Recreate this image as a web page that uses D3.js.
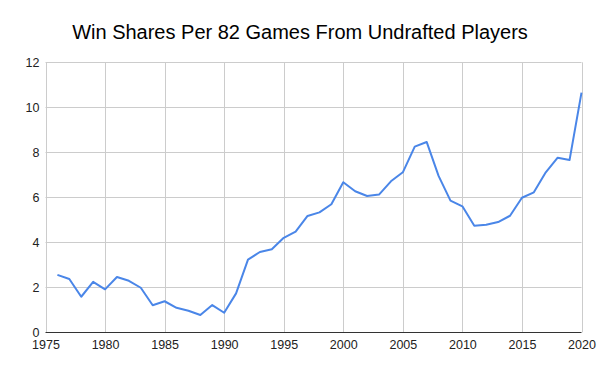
<!DOCTYPE html>
<html>
<head>
<meta charset="utf-8">
<script src="https://cdn.jsdelivr.net/npm/d3@7"></script>
<style>
  body { margin: 0; background: #fff; }
  text { font-family: "Liberation Sans", Arial, sans-serif; }
</style>
</head>
<body>
<div id="chart"></div>
<script>
// data
var years = [1976, 1977, 1978, 1979, 1980, 1981, 1982, 1983, 1984, 1985,
  1986, 1987, 1988, 1989, 1990, 1991, 1992, 1993, 1994, 1995,
  1996, 1997, 1998, 1999, 2000, 2001, 2002, 2003, 2004, 2005,
  2006, 2007, 2008, 2009, 2010, 2011, 2012, 2013, 2014, 2015,
  2016, 2017, 2018, 2019, 2020];
var winShares = [2.55, 2.37, 1.58, 2.24, 1.91, 2.46, 2.29, 1.98, 1.2, 1.38,
  1.09, 0.96, 0.77, 1.21, 0.87, 1.73, 3.23, 3.57, 3.69, 4.2,
  4.47, 5.17, 5.33, 5.69, 6.67, 6.27, 6.06, 6.12, 6.71, 7.11,
  8.25, 8.46, 6.95, 5.85, 5.6, 4.74, 4.78, 4.9, 5.18, 5.98,
  6.22, 7.11, 7.76, 7.66, 10.65];
var xTicks = [1975, 1980, 1985, 1990, 1995, 2000, 2005, 2010, 2015, 2020];
var yTicks = [0, 2, 4, 6, 8, 10, 12];
var title = "Win Shares Per 82 Games From Undrafted Players";

var width = 600, height = 371;
var margin = { top: 62.3, right: 18.5, bottom: 38.7, left: 45.5 };

var svg = d3.select("#chart").append("svg")
  .attr("width", width)
  .attr("height", height);

var x = d3.scaleLinear()
  .domain([1975, 2020])
  .range([margin.left, width - margin.right]);

var y = d3.scaleLinear()
  .domain([0, 12])
  .range([height - margin.bottom, margin.top]);

// title
svg.append("text")
  .attr("x", 300)
  .attr("y", 39)
  .attr("text-anchor", "middle")
  .attr("font-size", 20)
  .attr("fill", "#000")
  .text(title);

// gridlines
var grid = svg.append("g");
grid.selectAll(".hgrid")
  .data(yTicks.slice(1))
  .enter().append("line")
  .attr("x1", x.range()[0])
  .attr("x2", x.range()[1])
  .attr("y1", function(d) { return Math.round(y(d)) + 0.5; })
  .attr("y2", function(d) { return Math.round(y(d)) + 0.5; })
  .attr("stroke", "#cccccc")
  .attr("stroke-width", 1);

grid.selectAll(".vgrid")
  .data(xTicks)
  .enter().append("line")
  .attr("x1", function(d) { return Math.round(x(d)) + 0.5; })
  .attr("x2", function(d) { return Math.round(x(d)) + 0.5; })
  .attr("y1", y.range()[1])
  .attr("y2", y.range()[0])
  .attr("stroke", "#cccccc")
  .attr("stroke-width", 1);

// y axis labels
var yAxis = d3.axisLeft(y)
  .tickValues(yTicks)
  .tickSize(0)
  .tickPadding(6)
  .tickFormat(d3.format("d"));

svg.append("g")
  .attr("transform", "translate(" + margin.left + ",0)")
  .call(yAxis)
  .call(function(g) { g.select(".domain").remove(); })
  .selectAll("text")
  .attr("font-size", 12.5)
  .attr("font-family", "Liberation Sans, Arial, sans-serif")
  .attr("fill", "#222");

// x axis labels
var xAxis = d3.axisBottom(x)
  .tickValues(xTicks)
  .tickSize(0)
  .tickPadding(8)
  .tickFormat(d3.format("d"));

svg.append("g")
  .attr("transform", "translate(0," + (height - margin.bottom) + ")")
  .call(xAxis)
  .call(function(g) { g.select(".domain").remove(); })
  .selectAll("text")
  .attr("font-size", 12.5)
  .attr("font-family", "Liberation Sans, Arial, sans-serif")
  .attr("fill", "#222");

// baseline
svg.append("line")
  .attr("x1", x.range()[0])
  .attr("x2", x.range()[1])
  .attr("y1", Math.round(y(0)) + 0.5)
  .attr("y2", Math.round(y(0)) + 0.5)
  .attr("stroke", "#333")
  .attr("stroke-width", 1);

// the series line
var line = d3.line()
  .x(function(d, i) { return x(years[i]); })
  .y(function(d) { return y(d); });

svg.append("path")
  .datum(winShares)
  .attr("d", line)
  .attr("fill", "none")
  .attr("stroke", "#4a86e8")
  .attr("stroke-width", 2)
  .attr("stroke-linejoin", "round");
</script>
</body>
</html>
